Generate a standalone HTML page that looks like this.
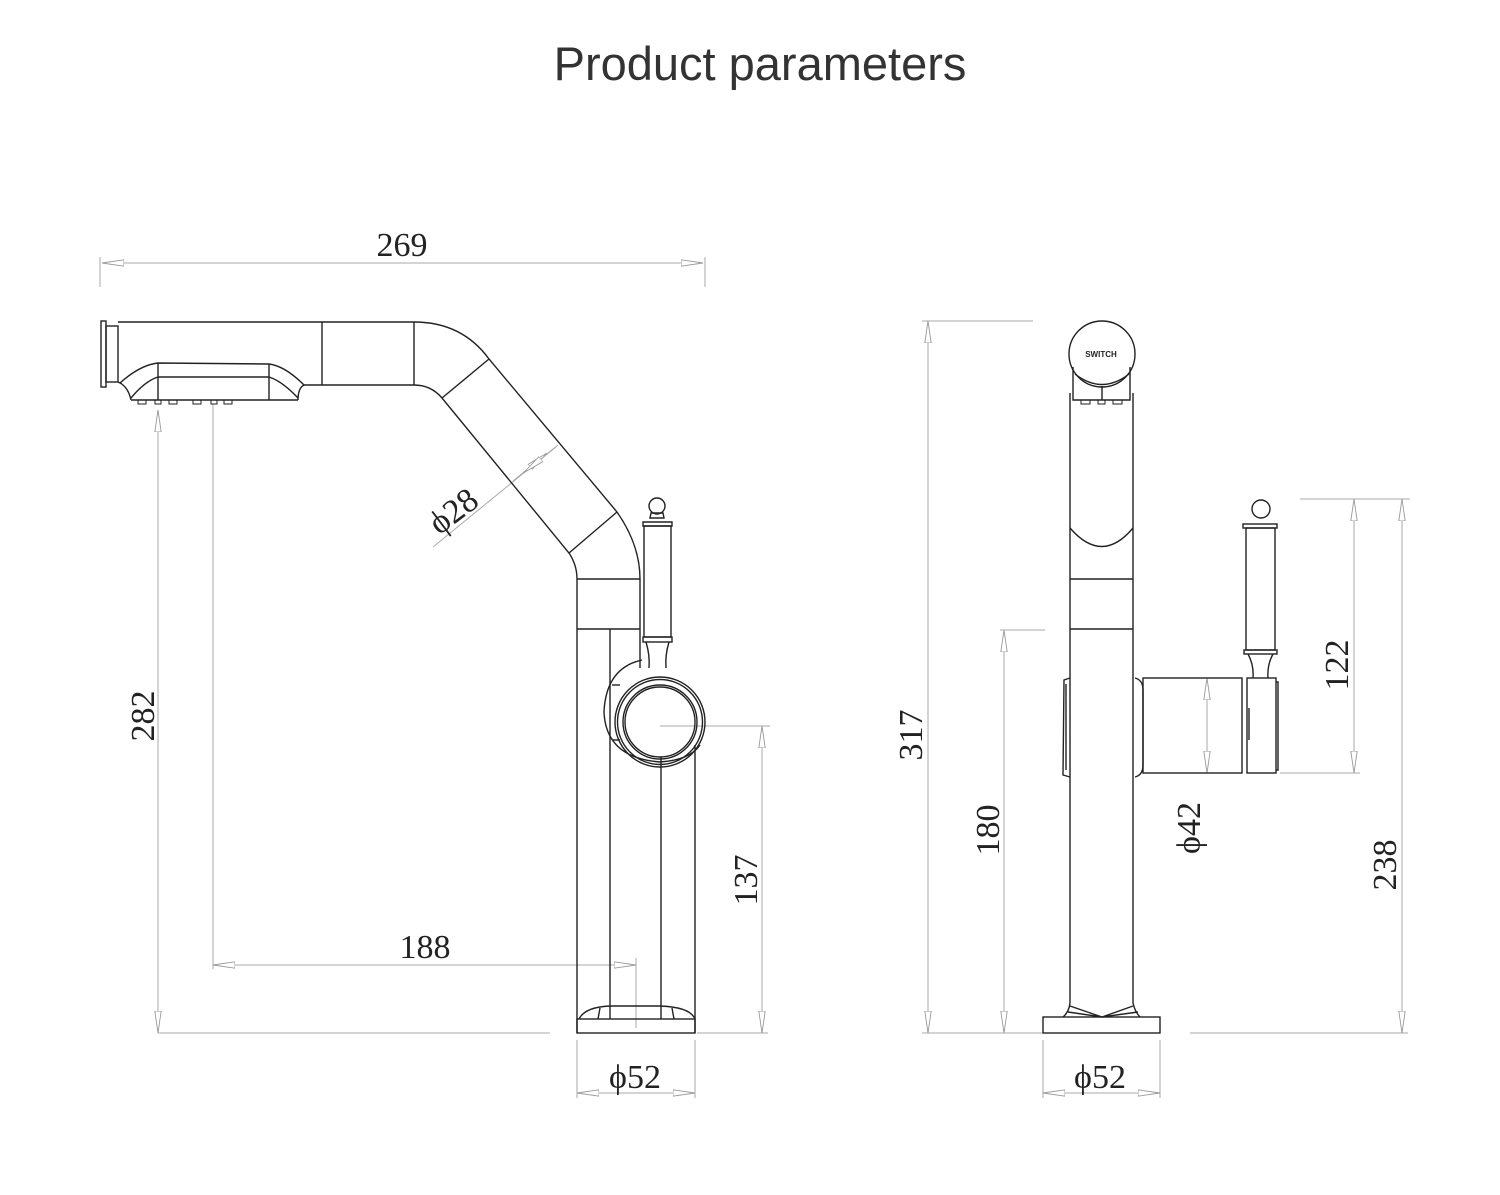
<!DOCTYPE html>
<html><head><meta charset="utf-8"><style>
html,body{margin:0;padding:0;background:#fff;}
svg{display:block;}
.t{font-family:"Liberation Serif",serif;font-size:34px;fill:#222;}
</style></head><body>
<svg width="1500" height="1195" viewBox="0 0 1500 1195" xmlns="http://www.w3.org/2000/svg">
<defs>
<marker id="a" markerWidth="24" markerHeight="10" refX="0" refY="4" orient="auto-start-reverse" markerUnits="userSpaceOnUse">
<path d="M22,4 L0,0.8 L0,7.2 Z" fill="#fff" stroke="#999" stroke-width="0.9"/>
</marker>
</defs>
<text x="760" y="80" text-anchor="middle" font-family="Liberation Sans, sans-serif" font-size="47" fill="#333">Product parameters</text>

<g stroke="#aaa" stroke-width="1" fill="none">
<line x1="100" y1="257" x2="100" y2="287"/><line x1="705" y1="257" x2="705" y2="287"/>
<line x1="124" y1="263" x2="681" y2="263" marker-start="url(#a)" marker-end="url(#a)"/>
<line x1="158" y1="432" x2="158" y2="1011" marker-start="url(#a)" marker-end="url(#a)"/>
<line x1="158" y1="1033" x2="550" y2="1033"/><line x1="697" y1="1033" x2="768" y2="1033"/>
<line x1="213" y1="404" x2="213" y2="969"/><line x1="636" y1="958" x2="636" y2="1028"/>
<line x1="235" y1="965" x2="614" y2="965" marker-start="url(#a)" marker-end="url(#a)"/>
<line x1="660" y1="726" x2="770" y2="726"/>
<line x1="762" y1="748" x2="762" y2="1011" marker-start="url(#a)" marker-end="url(#a)"/>
<line x1="577" y1="1040" x2="577" y2="1098"/><line x1="695" y1="1040" x2="695" y2="1098"/>
<line x1="599" y1="1093" x2="673" y2="1093" marker-start="url(#a)" marker-end="url(#a)"/>
<line x1="433" y1="547" x2="558" y2="445"/>
<line x1="530" y1="467" x2="513" y2="481" marker-start="url(#a)"/>
<line x1="541" y1="459" x2="556" y2="447" marker-start="url(#a)"/>
<line x1="922" y1="321" x2="1033" y2="321"/>
<line x1="928" y1="343" x2="928" y2="1011" marker-start="url(#a)" marker-end="url(#a)"/>
<line x1="1000" y1="630" x2="1045" y2="630"/>
<line x1="1004" y1="652" x2="1004" y2="1011" marker-start="url(#a)" marker-end="url(#a)"/>
<line x1="922" y1="1033" x2="1043" y2="1033"/><line x1="1190" y1="1033" x2="1408" y2="1033"/>
<line x1="1300" y1="499" x2="1410" y2="499"/><line x1="1280" y1="773" x2="1360" y2="773"/>
<line x1="1354" y1="521" x2="1354" y2="751" marker-start="url(#a)" marker-end="url(#a)"/>
<line x1="1402" y1="521" x2="1402" y2="1011" marker-start="url(#a)" marker-end="url(#a)"/>
<line x1="1207" y1="700" x2="1207" y2="751" marker-start="url(#a)" marker-end="url(#a)"/>
<line x1="1043" y1="1040" x2="1043" y2="1098"/><line x1="1160" y1="1040" x2="1160" y2="1098"/>
<line x1="1065" y1="1093" x2="1138" y2="1093" marker-start="url(#a)" marker-end="url(#a)"/>
</g>

<text class="t" x="402" y="256" text-anchor="middle">269</text>
<text class="t" x="425" y="958" text-anchor="middle">188</text>
<text class="t" x="635" y="1088" text-anchor="middle">ϕ52</text>
<text class="t" x="1100" y="1088" text-anchor="middle">ϕ52</text>
<text class="t" transform="translate(154,716) rotate(-90)" text-anchor="middle">282</text>
<text class="t" transform="translate(757,880) rotate(-90)" text-anchor="middle">137</text>
<text class="t" transform="translate(460,520) rotate(-37)" text-anchor="middle">ϕ28</text>
<text class="t" transform="translate(922,735) rotate(-90)" text-anchor="middle">317</text>
<text class="t" transform="translate(999,830) rotate(-90)" text-anchor="middle">180</text>
<text class="t" transform="translate(1200,828) rotate(-90)" text-anchor="middle">ϕ42</text>
<text class="t" transform="translate(1348,665) rotate(-90)" text-anchor="middle">122</text>
<text class="t" transform="translate(1396,865) rotate(-90)" text-anchor="middle">238</text>

<g stroke="#222" stroke-width="1.4" fill="none">
<rect x="101" y="321" width="5" height="66"/>
<rect x="106" y="326" width="12" height="56"/>
<line x1="118" y1="322" x2="414" y2="322"/>
<line x1="322" y1="322" x2="322" y2="385"/>
<line x1="414" y1="322" x2="414" y2="385"/>
<line x1="304" y1="385" x2="414" y2="385"/>
<path d="M118,382 Q128,386 131,400"/>
<line x1="131" y1="400" x2="298" y2="400"/>
<path d="M298,400 Q298,388 304,385"/>
<path d="M120,383 Q140,365 158,363 L269,364 Q285,366 304,385"/>
<path d="M131,398 Q145,381 158,377 L269,377 Q282,381 298,398"/>
<line x1="158" y1="363" x2="158" y2="400"/><line x1="269" y1="364" x2="269" y2="400"/>
<g stroke-width="1"><rect x="138" y="400" width="8" height="4"/><rect x="155" y="400" width="6" height="4"/><rect x="169" y="400" width="8" height="4"/><rect x="193" y="400" width="8" height="4"/><rect x="211" y="400" width="6" height="4"/><rect x="224" y="400" width="8" height="4"/></g>
<path d="M414,322 Q462,322 489,359 L617,512 Q640,545 640,579"/>
<path d="M414,385 Q431,385 442,398 L569,553 Q577,565 577,579"/>
<line x1="442" y1="398" x2="489" y2="359"/>
<line x1="569" y1="553" x2="617" y2="512"/>
<line x1="577" y1="579" x2="640" y2="579"/>
<line x1="577" y1="579" x2="577" y2="1033"/>
<line x1="640" y1="579" x2="640" y2="668"/>
<line x1="577" y1="629" x2="640" y2="629"/>
<line x1="610" y1="629" x2="610" y2="1019"/>
<line x1="661" y1="757" x2="661" y2="1019"/>
<line x1="695" y1="745" x2="695" y2="1033"/>
<rect x="577" y="1019" width="118" height="14"/>
<path d="M579,1019 Q585,1007 610,1006 L660,1006 Q690,1007 695,1019"/>
<line x1="600" y1="1008" x2="598" y2="1019"/><line x1="672" y1="1008" x2="674" y2="1019"/>
<path d="M642,660 Q606,668 604,712 Q606,758 660,762 Q690,760 700,745"/>
<line x1="612" y1="685" x2="620" y2="685"/>
<line x1="612" y1="740" x2="620" y2="740"/>
<circle cx="660" cy="722" r="45"/>
<circle cx="660" cy="722" r="42.5"/>
<circle cx="660" cy="722" r="37"/>
<circle cx="660" cy="722" r="35"/>
<circle cx="657" cy="506" r="8"/>
<path d="M651,513 L663,513 L664,518 L650,518 Z"/>
<path d="M643,522 L672,522 L672,526 L643,526 Z"/>
<rect x="644" y="526" width="27" height="111"/>
<rect x="643" y="637" width="29" height="5"/>
<path d="M646,642 Q650,655 649,668 M669,642 Q665,655 666,668"/>
</g>

<g stroke="#222" stroke-width="1.4" fill="none">
<circle cx="1102" cy="354" r="33"/>
<path d="M1073,367 L1073,400 L1130,400 L1130,367"/>
<path d="M1075,374 Q1102,395 1129,374"/>
<line x1="1102" y1="386" x2="1102" y2="400"/>
<g stroke-width="1"><rect x="1081" y="400" width="9" height="4"/><rect x="1098" y="400" width="7" height="4"/><rect x="1113" y="400" width="9" height="4"/></g>
<path d="M1070,393 L1070,1003 Q1069,1012 1063,1017"/>
<path d="M1133,393 L1133,1003 Q1135,1012 1140,1017"/>
<path d="M1070,528 Q1102,565 1133,528"/>
<line x1="1070" y1="579" x2="1133" y2="579"/>
<line x1="1070" y1="629" x2="1133" y2="629"/>
<rect x="1043" y="1017" width="117" height="16"/>
<path d="M1070,1006 L1102,1017 L1133,1006 M1068,1012 L1102,1017 L1138,1012"/>
<path d="M1070,678 L1064,680 L1063,775 L1070,777"/>
<path d="M1066,684 L1066,770"/>
<path d="M1135,678 Q1143,680 1143,690 L1143,765 Q1143,775 1135,777"/>
<rect x="1143" y="678" width="99" height="95"/>
<rect x="1247" y="678" width="29" height="95"/>
<path d="M1276,682 L1278,682 L1278,770 L1276,770"/>
<line x1="1249" y1="708" x2="1249" y2="740"/>
<circle cx="1261" cy="509" r="9"/>
<rect x="1243" y="524" width="34" height="4"/>
<rect x="1246" y="528" width="29" height="122"/>
<rect x="1244" y="650" width="33" height="4"/>
<path d="M1248,654 Q1254,665 1253,678 M1273,654 Q1267,665 1268,678"/>
</g>
<text x="1101" y="357" text-anchor="middle" font-family="Liberation Sans, sans-serif" font-size="8" font-weight="bold" fill="#222">SWITCH</text>
</svg>
</body></html>
